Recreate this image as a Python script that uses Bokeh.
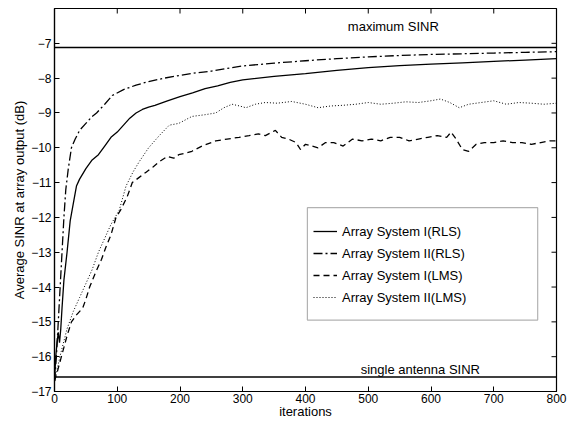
import math
from bokeh.plotting import figure
from bokeh.models import Range1d, FixedTicker, Span, Label, BoxAnnotation, Legend, LegendItem
from bokeh.embed import file_html
from bokeh.resources import INLINE

# ---------------- data ----------------
rls1_x = [0, 2, 4, 6, 8, 10, 12, 15, 20, 25, 30, 35, 40, 50, 60, 70, 80, 90, 100, 110,
          120, 130, 140, 150, 160, 180, 200, 220, 240, 260, 280, 300, 350, 400, 450,
          500, 550, 600, 650, 700, 750, 800]
rls1_y = [-16.7, -16.0, -15.6, -15.3, -15.6, -15.2, -14.6, -13.8, -13.0, -12.1, -11.6,
          -11.1, -10.9, -10.6, -10.35, -10.2, -9.95, -9.7, -9.55, -9.35, -9.15, -9.0,
          -8.9, -8.83, -8.78, -8.65, -8.53, -8.42, -8.3, -8.22, -8.12, -8.05, -7.95,
          -7.87, -7.78, -7.7, -7.64, -7.6, -7.56, -7.52, -7.48, -7.44]

rls2_x = [0, 3, 6, 9, 12, 15, 18, 22, 27, 33, 40, 50, 60, 67, 80, 92, 110, 130, 150,
          175, 200, 225, 250, 275, 300, 350, 400, 450, 500, 550, 600, 650, 700, 750, 800]
rls2_y = [-16.7, -16.0, -15.0, -14.0, -13.0, -12.0, -11.2, -10.6, -10.0, -9.75, -9.5,
          -9.3, -9.1, -9.0, -8.75, -8.5, -8.33, -8.2, -8.1, -8.0, -7.92, -7.85, -7.8,
          -7.72, -7.65, -7.57, -7.5, -7.44, -7.39, -7.35, -7.32, -7.3, -7.28, -7.26, -7.24]

lms1_x = [0, 5, 11, 20, 27, 35, 45, 50, 56, 65, 75, 82, 90, 98, 105, 116, 124, 135, 146,
          157, 167, 180, 190, 198, 210, 219, 235, 257, 275, 294, 310, 325, 336, 352, 362,
          373, 385, 392, 400, 410, 420, 432, 445, 460, 475, 490, 505, 520, 535, 550, 565,
          580, 595, 610, 625, 632, 640, 650, 660, 672, 685, 700, 715, 730, 745, 760, 775,
          790, 800]
lms1_y = [-16.7, -16.4, -16.0, -15.4, -15.0, -14.8, -14.6, -14.35, -14.0, -13.6, -13.2,
          -12.85, -12.5, -12.0, -11.8, -11.4, -11.0, -10.85, -10.7, -10.55, -10.4, -10.25,
          -10.3, -10.2, -10.15, -10.1, -9.95, -9.8, -9.75, -9.7, -9.65, -9.6, -9.65, -9.5,
          -9.7, -9.75, -9.85, -10.05, -9.9, -9.95, -10.0, -9.85, -9.85, -9.95, -9.75, -9.8,
          -9.75, -9.8, -9.7, -9.7, -9.8, -9.75, -9.7, -9.65, -9.7, -9.55, -9.75, -10.05,
          -10.1, -9.9, -9.85, -9.85, -9.8, -9.85, -9.85, -9.9, -9.85, -9.8, -9.8]

lms2_x = [0, 10, 20, 30, 40, 50, 60, 70, 80, 90, 103, 114, 125, 135, 150, 167, 183, 198,
          219, 240, 257, 270, 283, 295, 305, 320, 336, 355, 378, 400, 420, 440, 460, 480,
          500, 520, 540, 560, 580, 600, 615, 630, 645, 660, 680, 700, 720, 740, 760, 780, 800]
lms2_y = [-16.7, -15.9, -15.2, -14.7, -14.3, -13.9, -13.5, -13.0, -12.6, -12.2, -11.8,
          -11.1, -10.7, -10.4, -10.0, -9.65, -9.35, -9.3, -9.1, -9.05, -9.0, -8.85, -8.75,
          -8.8, -8.85, -8.75, -8.7, -8.72, -8.67, -8.75, -8.85, -8.8, -8.78, -8.75, -8.7,
          -8.75, -8.72, -8.68, -8.7, -8.65, -8.6, -8.7, -8.85, -8.75, -8.7, -8.65, -8.75,
          -8.7, -8.72, -8.75, -8.72]

max_sinr = -7.12
single_sinr = -16.58

x_ticks = [0, 100, 200, 300, 400, 500, 600, 700, 800]
y_ticks = [-17, -16, -15, -14, -13, -12, -11, -10, -9, -8, -7]

series_labels = ["Array System I(RLS)", "Array System II(RLS)",
                 "Array System I(LMS)", "Array System II(LMS)"]

FONT = "Liberation Sans"

# ---------------- figure ----------------
x_range = Range1d(0, 800)
y_range = Range1d(-17, -6)
p = figure(width=572, height=421, output_backend="svg", toolbar_location=None,
           x_range=x_range, y_range=y_range,
           min_border_left=54, min_border_right=16, min_border_top=8, min_border_bottom=0)
p.xgrid.visible = False
p.ygrid.visible = False
p.outline_line_color = "black"
p.outline_line_width = 1.2
p.background_fill_color = "white"
p.border_fill_color = "white"

for ax in (p.xaxis[0], p.yaxis[0]):
    ax.axis_line_color = "black"
    ax.axis_line_width = 1.2
    ax.major_tick_in = 5
    ax.major_tick_out = 0
    ax.minor_tick_in = 0
    ax.minor_tick_out = 0
    ax.major_tick_line_color = "black"
    ax.major_label_text_font = FONT
    ax.major_label_text_font_size = "12px"
    ax.major_label_text_color = "black"
    ax.axis_label_text_font = FONT
    ax.axis_label_text_font_size = "13px"
    ax.axis_label_text_font_style = "normal"
    ax.axis_label_text_color = "black"

xa = p.xaxis[0]
ya = p.yaxis[0]
xa.ticker = FixedTicker(ticks=x_ticks)
ya.ticker = FixedTicker(ticks=y_ticks)
ya.major_label_overrides = {t: "\u2212" + str(abs(t)) for t in y_ticks}
xa.axis_label = "iterations"
ya.axis_label = "Average SINR at array output (dB)"
xa.major_label_standoff = 2
xa.axis_label_standoff = -2
ya.major_label_standoff = 3
ya.axis_label_standoff = 1

# inner tick marks on the top and right edges of the box
p.scatter(x=x_ticks, y=[y_range.end] * len(x_ticks), marker="dash", size=10,
          angle=math.pi / 2, line_color="black", line_width=1)
p.scatter(x=[x_range.end] * len(y_ticks), y=y_ticks, marker="dash", size=10,
          line_color="black", line_width=1)

# reference lines
p.add_layout(Span(location=max_sinr, dimension="width", line_color="black", line_width=1.5))
p.add_layout(Span(location=single_sinr, dimension="width", line_color="black", line_width=1.5))
p.add_layout(Label(x=540, y=-6.53, text="maximum SINR", text_font=FONT, text_font_size="13px",
                   text_align="center", text_baseline="middle", text_color="black"))
p.add_layout(Label(x=583, y=-16.38, text="single antenna SINR", text_font=FONT, text_font_size="13px",
                   text_align="center", text_baseline="middle", text_color="black"))

r1 = p.line(rls1_x, rls1_y, line_color="black", line_width=1.3)
r2 = p.line(rls2_x, rls2_y, line_color="black", line_width=1.3, line_dash="9 3 2 3")
r3 = p.line(lms1_x, lms1_y, line_color="black", line_width=1.3, line_dash="6 4")
r4 = p.line(lms2_x, lms2_y, line_color="black", line_width=1.0, line_dash="1 2")

# legend frame
p.add_layout(BoxAnnotation(left=403, right=770, top=-11.72, bottom=-14.95,
                           fill_color="white", fill_alpha=1.0,
                           line_color="black", line_width=1.2))
legend = Legend(items=[LegendItem(label=series_labels[0], renderers=[r1]),
                       LegendItem(label=series_labels[1], renderers=[r2]),
                       LegendItem(label=series_labels[2], renderers=[r3]),
                       LegendItem(label=series_labels[3], renderers=[r4])],
                location=(253, 77), padding=6, spacing=0,
                glyph_width=24, glyph_height=22, label_height=22, label_standoff=5,
                label_text_font=FONT, label_text_font_size="13px", label_text_color="black",
                border_line_alpha=0, background_fill_alpha=0)
p.add_layout(legend)

open("out.html", "w").write(file_html(p, INLINE))
